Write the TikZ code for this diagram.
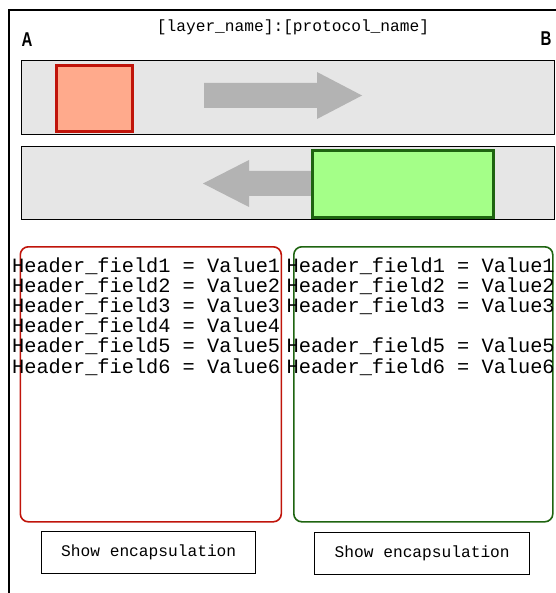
\documentclass[tikz,border=0pt]{standalone}
\usepackage{fontspec}
\setmainfont{Liberation Sans}
\setmonofont{Liberation Mono}
\definecolor{barfill}{HTML}{E6E6E6}
\definecolor{arrowgray}{HTML}{B3B3B3}
\definecolor{srcfill}{HTML}{FFAA8C}
\definecolor{srcline}{HTML}{C0140A}
\definecolor{dstfill}{HTML}{A4FF88}
\definecolor{dstline}{HTML}{1E6410}
\tikzset{
  lane/.style={draw=black, line width=1.4pt, fill=barfill, inner sep=0pt, anchor=north west},
  pdu/.style={inner sep=0pt, anchor=north west},
  hdrbox/.style={rounded corners=8pt, line width=1.6pt, fill=white, inner sep=0pt, anchor=north west},
  hdrtext/.style={font=\ttfamily\fontsize{20.3}{20.2}\selectfont, align=left, inner sep=0pt, anchor=base west},
  button/.style={draw=black, line width=1.4pt, inner sep=0pt, anchor=north west,
    font=\ttfamily\fontsize{16.2}{18}\selectfont},
  endpoint/.style={font=\bfseries\fontsize{20}{20}\selectfont, inner sep=0pt, anchor=base}
}
\begin{document}
\begin{tikzpicture}[x=1pt, y=-1pt]
  \useasboundingbox (0,0) rectangle (555,593);
  % frame
  \draw[line width=1.6pt] (9,593) -- (9,10) -- (556,10);
  % title and endpoints
  \node[font=\ttfamily\fontsize{16.2}{18}\selectfont, inner sep=0pt, anchor=base] (title) at (293,32) {[layer\_name]:[protocol\_name]};
  \node[endpoint] (epA) at (27,47) {\scalebox{0.75}[1]{A}};
  \node[endpoint] (epB) at (546,46) {\scalebox{0.75}[1]{B}};
  % lanes
  \node[lane, minimum width=533pt, minimum height=74pt] (lane1) at (21,60) {};
  \node[lane, minimum width=533pt, minimum height=73pt] (lane2) at (21,146) {};
  % A -> B
  \fill[arrowgray] (204,83) -- (317,83) -- (317,72) -- (362,95.5) -- (317,119) -- (317,108) -- (204,108) -- cycle;
  \node[pdu, draw=srcline, line width=3pt, fill=srcfill, minimum width=76pt, minimum height=66pt] (pduA) at (55,64) {};
  % B -> A
  \fill[arrowgray] (311,171) -- (249,171) -- (249,160) -- (203,183.5) -- (249,207) -- (249,196) -- (311,196) -- cycle;
  \node[pdu, draw=dstline, line width=3.2pt, fill=dstfill, minimum width=181pt, minimum height=67pt] (pduB) at (311,149) {};
  % header panels
  \node[hdrbox, draw=srcline, minimum width=261pt, minimum height=275pt] (hdrA) at (19.5,246) {};
  \node[hdrbox, draw=dstline, minimum width=259pt, minimum height=275pt] (hdrB) at (293,246) {};
  % the base anchor of a multi-line node sits on its last line
  \node[hdrtext] (fieldsA) at (12,373) {Header\_field1 = Value1\\Header\_field2 = Value2\\Header\_field3 = Value3\\Header\_field4 = Value4\\Header\_field5 = Value5\\Header\_field6 = Value6};
  \node[hdrtext] (fieldsB) at (286.5,373) {Header\_field1 = Value1\\Header\_field2 = Value2\\Header\_field3 = Value3\\\phantom{H}\\Header\_field5 = Value5\\Header\_field6 = Value6};
  % buttons
  \node[button, minimum width=214pt, minimum height=42pt] (btnA) at (41,531) {Show encapsulation};
  \node[button, minimum width=215pt, minimum height=42pt] (btnB) at (314,532) {Show encapsulation};
\end{tikzpicture}
\end{document}
